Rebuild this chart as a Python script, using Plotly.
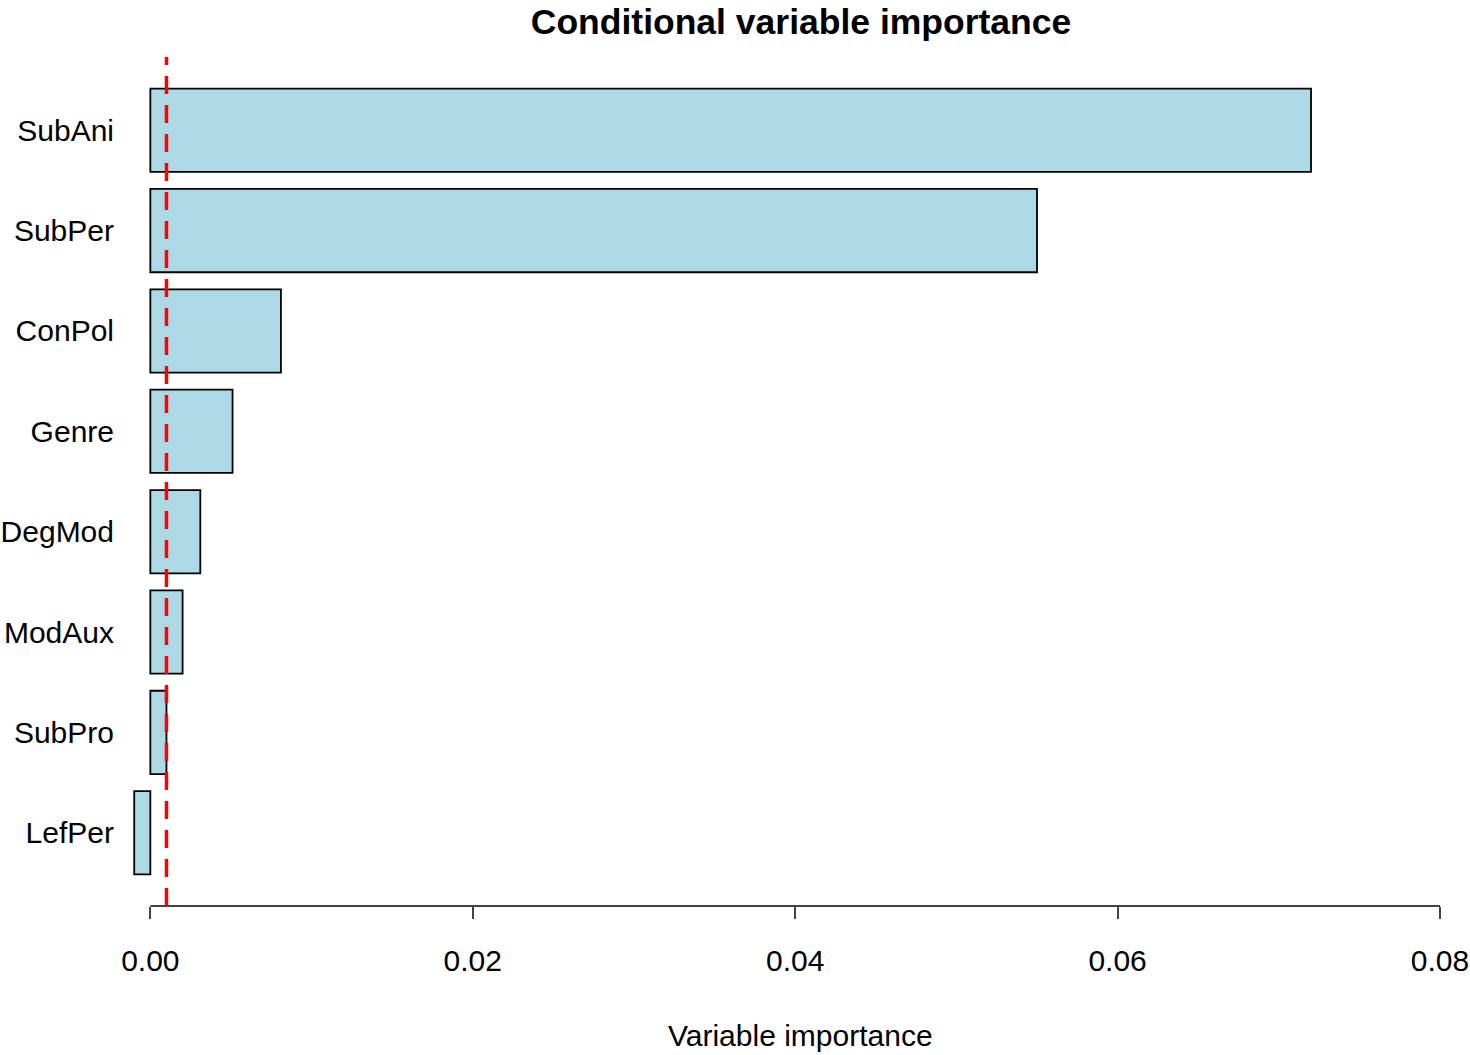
import plotly.graph_objects as go

variables = ["SubAni", "SubPer", "ConPol", "Genre", "DegMod", "ModAux", "SubPro", "LefPer"]
importance = [0.0720, 0.0550, 0.0081, 0.0051, 0.0031, 0.0020, 0.0010, -0.0010]
threshold = abs(min(importance))
x_ticks = [0.00, 0.02, 0.04, 0.06, 0.08]
x_tick_labels = ["0.00", "0.02", "0.04", "0.06", "0.08"]

W, H = 1470, 1055
left, right, top, bottom = 130.6, 1440, 57, 906
FONT = "Liberation Sans, Arial, sans-serif"

fig = go.Figure()
fig.add_trace(go.Bar(
    x=importance, y=variables, orientation="h", width=0.83,
    marker=dict(color="#ADD8E6", line=dict(color="black", width=1.8)),
    hoverinfo="x+y",
))

fig.update_layout(
    width=W, height=H,
    margin=dict(l=left, r=W - right, t=top, b=H - bottom, pad=0, autoexpand=False),
    plot_bgcolor="white", paper_bgcolor="white",
    showlegend=False,
    font=dict(family=FONT, size=30, color="black"),
    title=dict(text="<b>Conditional variable importance</b>",
               x=801 / W, xref="container", xanchor="center",
               y=1 - 22 / H, yref="container", yanchor="middle",
               font=dict(family=FONT, size=35.5, color="black")),
    xaxis=dict(range=[-0.0012, 0.08], tickvals=x_ticks, ticktext=x_tick_labels,
               showgrid=False, zeroline=False, showline=False, automargin=False,
               ticks="outside", ticklen=12, tickwidth=2, tickcolor="#444444",
               ticklabelstandoff=16, tickfont=dict(size=30)),
    yaxis=dict(categoryorder="array", categoryarray=variables, autorange=False,
               range=[len(variables) - 1 + 0.73, -0.73], automargin=False,
               showgrid=False, zeroline=False, showline=False, ticks="",
               ticklabelstandoff=16, tickfont=dict(size=30)),
    annotations=[dict(text="Variable importance", xref="paper", yref="paper",
                      x=(800 - left) / (right - left), y=-(1035 - bottom) / (bottom - top),
                      xanchor="center", yanchor="middle", showarrow=False,
                      font=dict(family=FONT, size=30, color="black"))],
    shapes=[
        dict(type="line", xref="x", yref="paper", x0=x_ticks[0], x1=x_ticks[-1], y0=0, y1=0,
             line=dict(color="#444444", width=2)),
        dict(type="line", xref="x", yref="paper", x0=threshold, x1=threshold, y0=0, y1=1,
             line=dict(color="#FF0000", width=3.5, dash="18px,11px")),
    ],
)

fig.write_html(
    "out.html",
    config={"displayModeBar": False},
    post_script="document.body.style.margin='0';document.body.style.overflow='hidden';",
)
